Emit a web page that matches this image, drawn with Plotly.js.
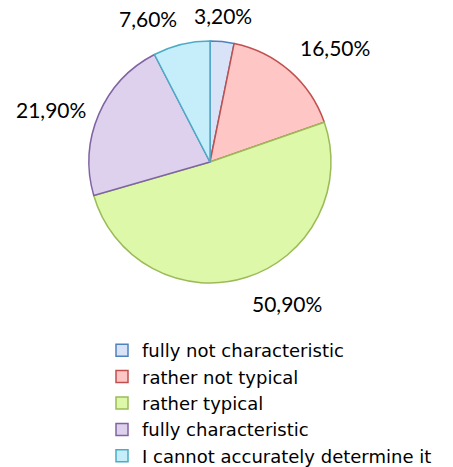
<!DOCTYPE html>
<html><head><meta charset="utf-8">
<script src="https://cdn.plot.ly/plotly-3.0.1.min.js"></script>
<style>body{margin:0;background:#fff}#c{width:453px;height:467px}</style>
</head><body><div id="c"></div>
<script>
const categories = ["fully not characteristic","rather not typical","rather typical","fully characteristic","I cannot accurately determine it"];
const values = [3.2, 16.5, 50.9, 21.9, 7.6];
const valueLabels = ["3,20%","16,50%","50,90%","21,90%","7,60%"];

const fills = ["#d9e3f8","#ffc6c6","#dcf8a8","#ddd1ee","#c6eefa"];
const lines = ["#4f81bd","#c0504d","#9bbb59","#8064a2","#4bacc6"];

const W = 453, H = 467;
const cx = 210, cy = 162, R = 121;
const font = "Lato, 'Liberation Sans', sans-serif";

const total = values.reduce((a,b)=>a+b,0);
let cum = 0;
const annotations = values.map((v,i)=>{
  const mid = (cum + v/2)/total*2*Math.PI; cum += v;
  const s = Math.sin(mid), c = Math.cos(mid);
  const r = R*1.1;
  const px = cx + r*s, py = cy - r*c;
  return {
    xref:"paper", yref:"paper", x: px/W, y: 1-py/H,
    text: valueLabels[i], showarrow:false,
    xanchor: s>0.25?"left":(s<-0.2?"right":"center"),
    yanchor: c>0.5?"bottom":(c<-0.5?"top":"middle"),
    font:{family:font,size:21,color:"#000"}
  };
});

const data = [{
  type:"pie", labels:categories, values:values, sort:false,
  direction:"clockwise", rotation:0, textinfo:"none", hoverinfo:"none",
  marker:{colors:fills, line:{color:lines, width:1.5}},
  domain:{x:[(cx-R)/W,(cx+R)/W], y:[1-(cy+R)/H, 1-(cy-R)/H]}
}];

const layout = {
  width:W, height:H, margin:{l:0,r:0,t:0,b:0,autoexpand:false},
  paper_bgcolor:"#fff", plot_bgcolor:"#fff",
  showlegend:true,
  legend:{x:102/W, y:1-332/H, xanchor:"left", yanchor:"top",
    font:{family:"'DejaVu Sans', sans-serif",size:18,color:"#000"}, itemwidth:30, tracegroupgap:0, bgcolor:"rgba(0,0,0,0)"},
  annotations:annotations
};
Plotly.newPlot("c", data, layout, {displayModeBar:false, staticPlot:true});
</script></body></html>
